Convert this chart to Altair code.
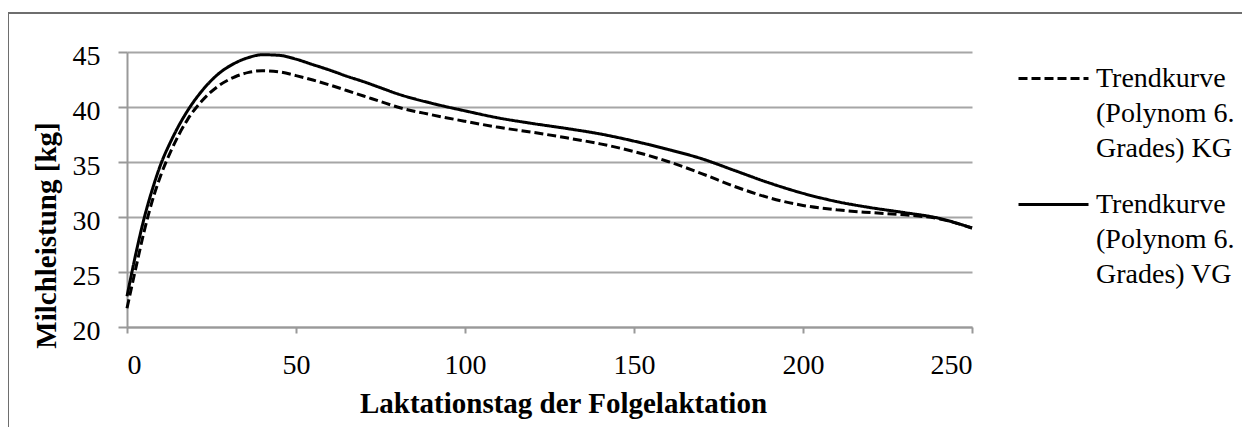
import altair as alt
import pandas as pd

days = [0, 3, 5, 8, 10, 13, 18, 22, 27, 32, 36, 40, 45, 50, 55, 60, 65, 70, 75, 80,
        90, 100, 110, 120, 130, 140, 150, 160, 170, 180, 190, 200, 210, 220, 230, 240, 250]
kg = [21.7, 25.9, 28.6, 32.0, 33.8, 36.0, 38.9, 40.5, 41.9, 42.75, 43.15, 43.3, 43.2, 42.85,
      42.45, 42.0, 41.5, 41.0, 40.5, 40.0, 39.3, 38.7, 38.15, 37.7, 37.2, 36.65, 35.95, 35.05,
      33.95, 32.75, 31.75, 31.05, 30.65, 30.4, 30.2, 29.85, 29.0]
vg = [22.8, 27.2, 29.8, 33.0, 34.8, 36.9, 39.7, 41.4, 43.0, 44.0, 44.5, 44.75, 44.7, 44.35,
      43.85, 43.35, 42.8, 42.3, 41.75, 41.2, 40.35, 39.65, 39.0, 38.5, 38.05, 37.55, 36.9, 36.15,
      35.3, 34.2, 33.1, 32.15, 31.4, 30.85, 30.4, 29.9, 29.0]
series_names = ["Trendkurve|(Polynom 6.|Grades) KG", "Trendkurve|(Polynom 6.|Grades) VG"]
y_ticks = [20, 25, 30, 35, 40, 45]
x_ticks = [0, 50, 100, 150, 200, 250]

rows = []
for d, v in zip(days, kg):
    rows.append({"Tag": d, "Wert": v, "Serie": series_names[0]})
for d, v in zip(days, vg):
    rows.append({"Tag": d, "Wert": v, "Serie": series_names[1]})
df = pd.DataFrame(rows)

FONT = "Liberation Serif"

lines = alt.Chart(df).mark_line(color="black", strokeWidth=3, interpolate="monotone").encode(
    x=alt.X("Tag:Q", scale=alt.Scale(domain=[0, 250], nice=False),
            axis=alt.Axis(values=x_ticks, title="Laktationstag der Folgelaktation", grid=False,
                          tickSize=6, labelPadding=18, titleX=436, titleY=85,
                          titleAlign="center", titleBaseline="alphabetic")),
    y=alt.Y("Wert:Q", scale=alt.Scale(domain=[20, 45], nice=False, zero=False),
            axis=alt.Axis(values=y_ticks, title="Milchleistung [kg]", grid=True,
                          tickSize=9, labelPadding=18, labelOffset=4,
                          titleX=-72, titleY=183, titleAngle=-90,
                          titleAlign="center", titleBaseline="alphabetic")),
    strokeDash=alt.StrokeDash("Serie:N",
                              scale=alt.Scale(domain=series_names, range=[[9, 4], [1, 0]]),
                              legend=alt.Legend(title=None, orient="none", legendX=890, legendY=-10,
                                                symbolType="stroke", symbolSize=4900,
                                                symbolStrokeWidth=3, symbolStrokeColor="black",
                                                labelOffset=6, labelLimit=400, padding=0,
                                                labelExpr="split(datum.label, '|')",
                                                labelBaseline="middle", rowPadding=5)),
)

border = alt.Chart(pd.DataFrame({"k": [0]})).mark_rule(color="#6e6e6e", strokeWidth=2).encode(
    x=alt.value(-119), x2=alt.value(1120), y=alt.value(-39), y2=alt.value(-39))
border_left = alt.Chart(pd.DataFrame({"k": [0]})).mark_rule(color="#6e6e6e", strokeWidth=2).encode(
    x=alt.value(-119), x2=alt.value(-119), y=alt.value(-39), y2=alt.value(380))

chart = alt.layer(border, border_left, lines).properties(
    width=845, height=275,
    autosize=alt.AutoSizeParams(type="none"),
    padding={"left": 119, "top": 44, "right": 270, "bottom": 100},
).configure(
    style={"guide-label": {"lineHeight": 35}}
).configure_view(stroke=None).configure_axis(
    labelFont=FONT, titleFont=FONT, labelFontSize=28, titleFontSize=29,
    titleFontWeight="bold", labelColor="black", titleColor="black",
    domainColor="#999999", domainWidth=2, tickColor="#999999", tickWidth=2,
    gridColor="#a6a6a6", gridWidth=2,
).configure_legend(
    labelFont=FONT, labelFontSize=28, labelColor="black",
)

chart.save("out.html", embed_options={"renderer": "svg", "actions": False})
